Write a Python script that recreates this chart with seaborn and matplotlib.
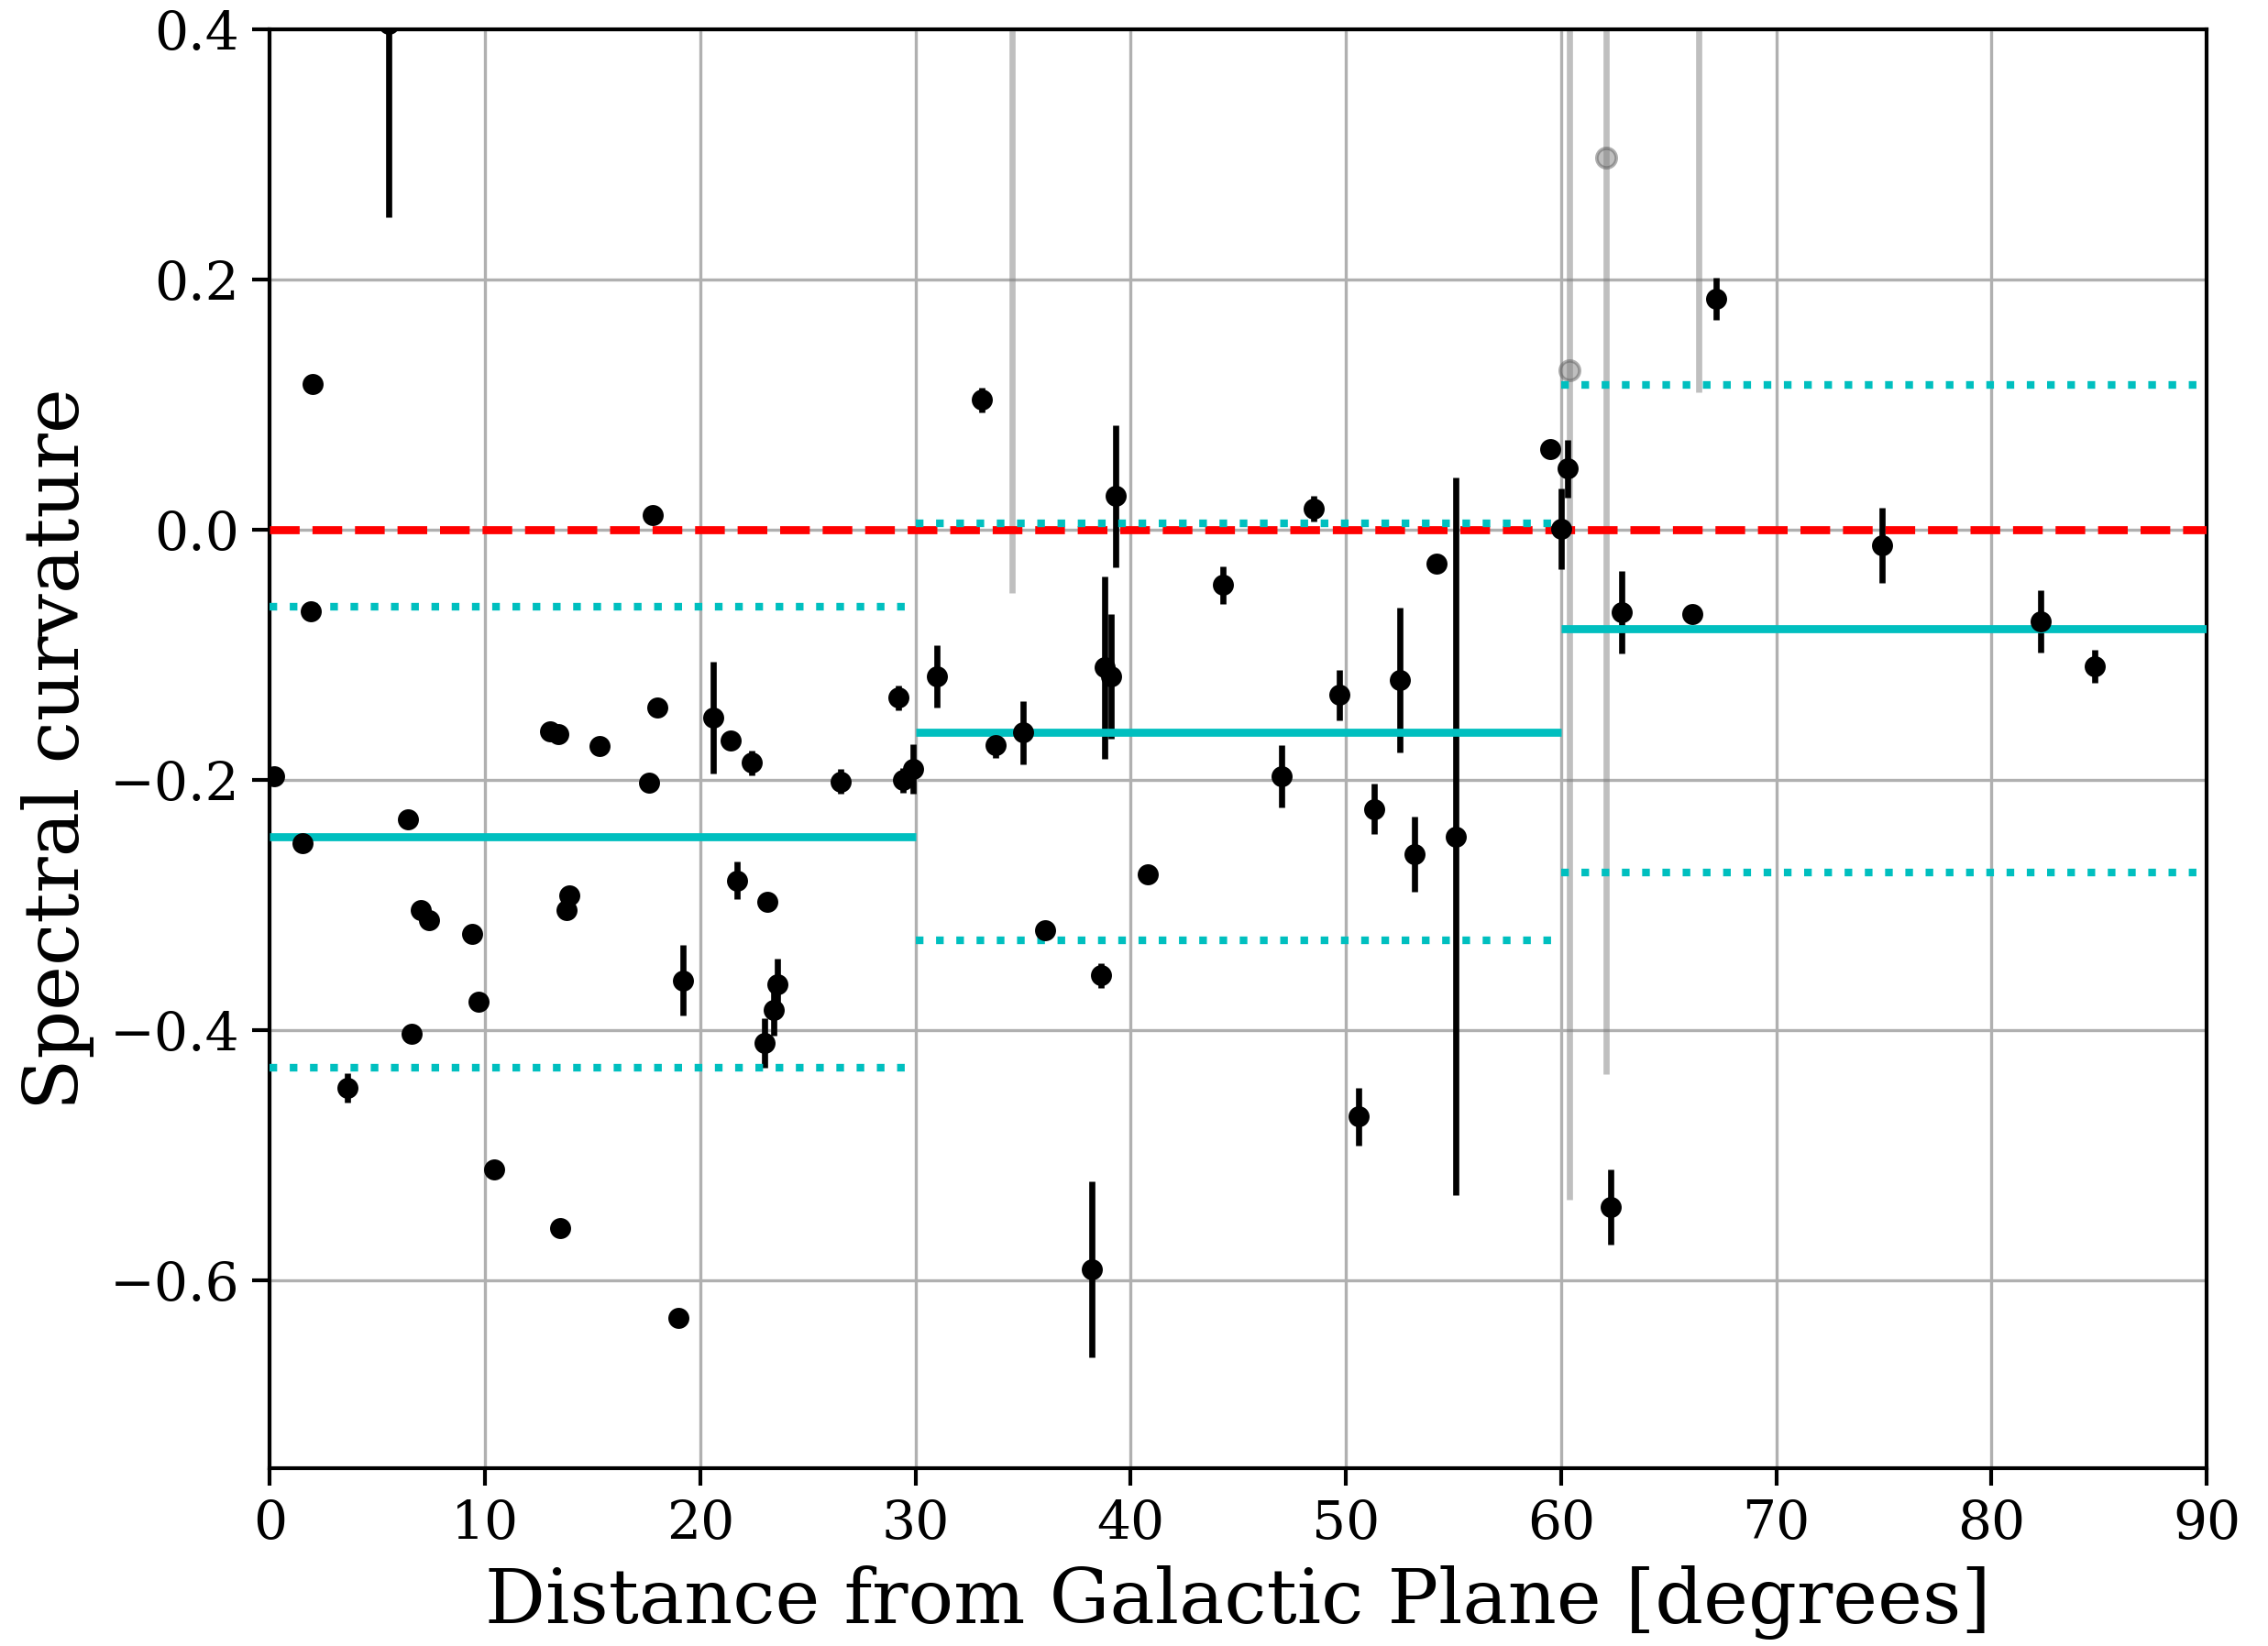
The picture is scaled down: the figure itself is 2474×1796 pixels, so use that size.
import numpy as np
import pandas as pd
import matplotlib
matplotlib.use("Agg")
import matplotlib.pyplot as plt
import seaborn as sns

# ---- data: sources with measured curvature ----
dist = [0.2, 1.5, 2.0, 1.9, 3.6, 5.5, 6.4, 6.6, 7.0, 7.4, 9.4, 9.7, 10.4, 13.0, 13.4,
        13.5, 13.8, 13.9, 15.3, 17.6, 17.8, 18.0, 19.0, 19.2, 20.6, 21.4, 21.7, 22.4,
        23.1, 23.0, 23.4, 23.6, 26.5, 29.2, 29.4, 29.9, 31.0, 33.1, 33.7, 35.0, 36.0,
        38.2, 38.6, 38.8, 39.1, 39.3, 40.8, 44.3, 47.0, 48.5, 49.7, 50.6, 51.3, 52.5,
        53.2, 54.2, 55.1, 59.5, 60.0, 60.3, 62.3, 62.8, 66.1, 67.2, 74.9, 82.3, 84.8]
curv = [-0.197, -0.250, 0.117, -0.065, -0.446, 0.405, -0.231, -0.403, -0.304, -0.312,
        -0.323, -0.377, -0.511, -0.161, -0.163, -0.558, -0.304, -0.292, -0.173, -0.202,
        0.012, -0.142, -0.630, -0.360, -0.150, -0.168, -0.280, -0.186, -0.297, -0.410,
        -0.384, -0.363, -0.201, -0.134, -0.200, -0.191, -0.117, 0.104, -0.172, -0.162,
        -0.320, -0.591, -0.356, -0.110, -0.117, 0.027, -0.275, -0.044, -0.197, 0.017,
        -0.132, -0.469, -0.223, -0.120, -0.259, -0.027, -0.245, 0.065, 0.001, 0.049,
        -0.541, -0.066, -0.067, 0.185, -0.012, -0.073, -0.109]
curv_err = [0.0, 0.0, 0.0, 0.0, 0.012, 0.155, 0.0, 0.0, 0.0, 0.0, 0.0, 0.0, 0.0, 0.0,
            0.0, 0.0, 0.006, 0.006, 0.0, 0.0, 0.0, 0.0, 0.0, 0.028, 0.045, 0.0, 0.015,
            0.01, 0.0, 0.02, 0.02, 0.02, 0.01, 0.01, 0.01, 0.02, 0.025, 0.01, 0.01,
            0.025, 0.006, 0.07, 0.01, 0.073, 0.05, 0.057, 0.0, 0.015, 0.025, 0.01, 0.02,
            0.023, 0.02, 0.058, 0.03, 0.0, 0.287, 0.005, 0.032, 0.023, 0.03, 0.033, 0.0,
            0.017, 0.03, 0.025, 0.013]

# ---- data: poorly constrained sources (grey) ----
dist_bad = [34.5, 60.4, 62.1, 66.4]
curv_bad = [0.60, 0.128, 0.298, 0.70]
err_bad = [0.65, 0.663, 0.733, 0.59]

# ---- data: bin statistics ----
bin_lo = [0, 30, 60]
bin_hi = [30, 60, 90]
bin_mean = [-0.245, -0.162, -0.079]
bin_upper = [-0.061, 0.005, 0.116]
bin_lower = [-0.430, -0.328, -0.274]

xticks = [0, 10, 20, 30, 40, 50, 60, 70, 80, 90]

BLACK = "#000000"
RED = "#ff0000"
CYAN = "#00bfbf"
GREY = "#808080"

sns.set_theme(style="ticks", color_codes=False)
plt.rcParams['font.family'] = ['DejaVu Serif']
plt.rcParams['mathtext.fontset'] = 'dejavuserif'
plt.rcParams.update({"text.color": BLACK, "axes.labelcolor": BLACK,
                     "xtick.color": BLACK, "ytick.color": BLACK,
                     "axes.edgecolor": BLACK})

fig = plt.figure(figsize=(2474 / 300, 1796 / 300), dpi=300)
ax = fig.add_axes([0.119, 0.108, 0.854, 0.874])

df = pd.DataFrame({"dist": dist, "curv": curv, "err": curv_err})
dfb = pd.DataFrame({"dist": dist_bad, "curv": curv_bad, "err": err_bad})

ax.errorbar(dfb["dist"], dfb["curv"], yerr=dfb["err"], fmt="none", ecolor=GREY,
            elinewidth=1.6, alpha=0.5, zorder=2)
sns.scatterplot(data=dfb, x="dist", y="curv", color=GREY, alpha=0.5, s=26,
                edgecolor="#606060", linewidth=0.9, ax=ax, zorder=2)

ax.errorbar(df["dist"], df["curv"], yerr=df["err"], fmt="none", ecolor=BLACK,
            elinewidth=1.6, zorder=3)
sns.scatterplot(data=df, x="dist", y="curv", color=BLACK, s=24, edgecolor=BLACK,
                linewidth=0.6, ax=ax, zorder=5)

ax.axhline(0, color=RED, ls="--", lw=2.1, zorder=4)
for lo, hi, m, u, l in zip(bin_lo, bin_hi, bin_mean, bin_upper, bin_lower):
    ax.hlines(m, lo, hi, color=CYAN, lw=2.1, zorder=4)
    ax.hlines([u, l], lo, hi, color=CYAN, lw=2.0, linestyles=":", zorder=4)

ax.set_xlim(0, 90)
ax.set_ylim(-0.75, 0.4)
ax.set_xticks(xticks)
ax.grid(True, color="#b0b0b0", lw=0.8, zorder=0)
ax.set_axisbelow(True)
for s in ax.spines.values():
    s.set_linewidth(1.0)
    s.set_color(BLACK)
ax.tick_params(axis="both", labelsize=14, length=4.5, width=1.0, color=BLACK,
               labelcolor=BLACK, direction="out")
ax.set_xlabel("Distance from Galactic Plane [degrees]", fontsize=19.8)
ax.set_ylabel("Spectral curvature", fontsize=19.8)

fig.savefig("out.png", dpi=300)
